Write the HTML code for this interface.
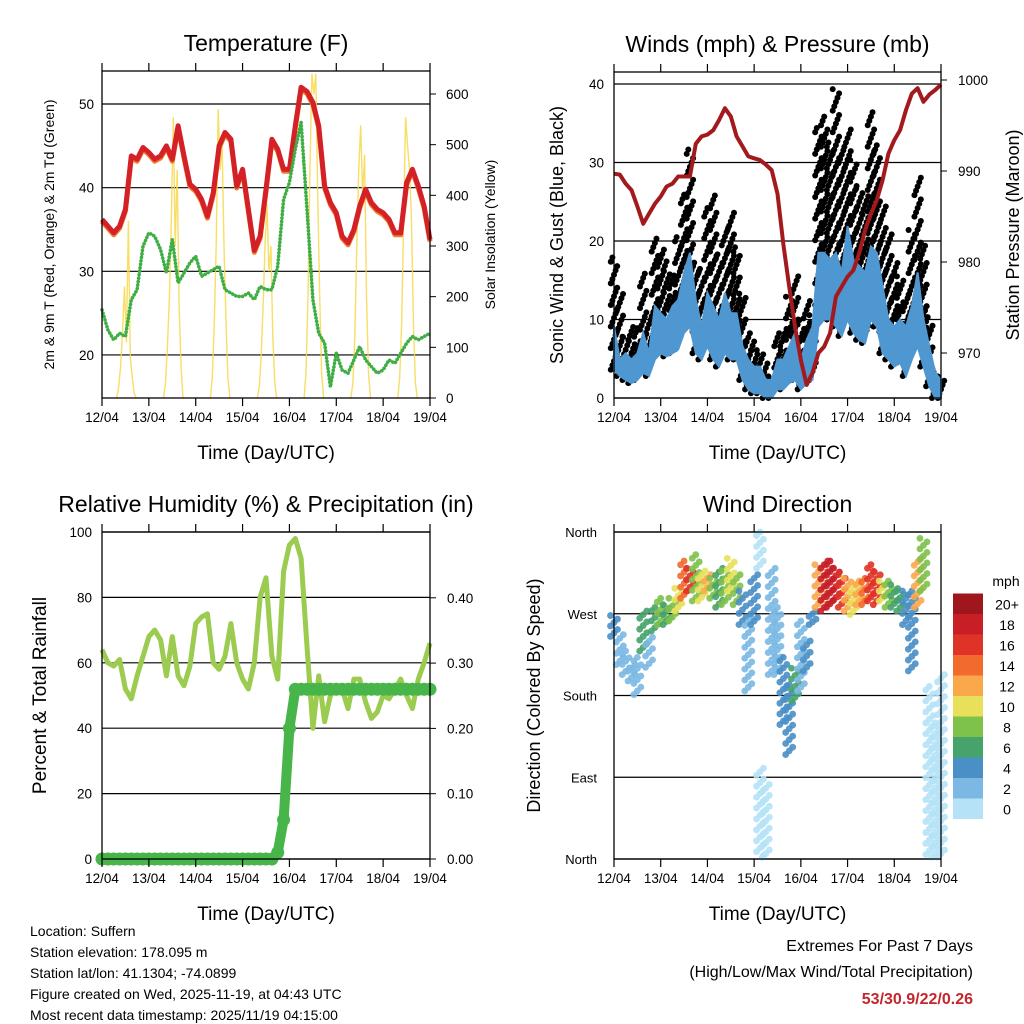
<!DOCTYPE html>
<html><head><meta charset="utf-8"><style>
body{margin:0;background:#fff}
svg{display:block;font-family:"Liberation Sans",Arial,sans-serif}
</style></head><body>
<svg id="c" width="1024" height="1024" viewBox="0 0 1024 1024" xmlns="http://www.w3.org/2000/svg">
<g id="static"></g>
</svg>
<script>
// ---- data (3-hourly from 12/04 00UTC, 57 samples) ----
const dayLabels=["12/04","13/04","14/04","15/04","16/04","17/04","18/04","19/04"];
const tempF=[36.2,35.4,34.6,35.4,37.4,43.8,43.4,44.8,44.2,43.4,43.8,45,43.4,47.4,43.8,40.4,39.8,38.6,36.6,39.4,45,46.6,45.8,40.2,42.2,37.4,32.5,34.2,39.8,45.8,44.6,42.2,42.2,47.4,52,51.5,50.2,47.4,40.2,38.2,37,34.2,33.4,35,37.8,39.8,38.2,37.4,37,36.2,34.6,34.6,40.6,42.2,40.2,37.8,33.8];
const dewF=[25.4,23,21.8,22.6,22.2,26.6,27.8,33,34.6,34.2,32.6,29.8,33.8,28.6,29.8,31,31.8,29.4,29.8,30.2,30.6,27.8,27.4,27,27,27.4,26.6,28.2,27.8,27.8,30.6,38.6,40.6,44.6,47.8,37.4,26.6,22.6,21.4,16.2,20.2,18.2,17.8,19.4,21,19.4,18.6,17.8,18.2,19.4,19,20.2,21.4,22.2,21.8,22.2,22.6];
const solarByDay=[
[0,20,60,130,220,110,350,80,40,10,0],
[0,30,100,200,350,554,300,450,180,60,0],
[0,40,150,300,570,450,500,300,150,40,0],
[0,20,80,180,300,383,250,300,120,30,0],
[0,50,200,450,640,600,640,400,200,50,0],
[0,30,120,300,450,538,400,480,200,50,0],
[0,40,150,350,554,500,450,350,150,30,0]];
const windLo=[3.6,2.8,2.3,1.9,2.3,3.2,2.8,4.9,5.7,5.3,5.7,6.2,8.3,9.1,5.7,4.9,6.6,4.9,4,5.7,4.9,4.9,2.3,1.1,0.6,0.6,0,0,1.1,1.1,1.9,2.3,1.1,1.9,2.3,9.1,10,10,9.1,7.9,10,8.3,7.4,7,10,9.1,5.7,4.9,4,4.5,2.8,4.9,6.6,4,1.5,0,0];
const windHi=[9.1,4.9,5.7,4.9,5.7,8.3,5.7,11.7,10.8,10,11.7,12.5,16,18.5,12.5,9.1,13.4,11.7,10,13.4,10.8,10.8,6.6,4.9,4,4,2.3,2.3,4.9,4.9,6.6,8.3,4.9,7.4,9.1,18.5,18.5,17.6,18.5,16,21.9,17.6,16.8,16,19.3,18.5,14.2,10,9.1,10,9.1,11.7,16,10,6.6,3.2,2.3];
const gustHi=[18,13.4,8.3,9.1,9.1,16,10.8,20.6,19.3,17.6,16,21,26.1,32,17.6,16.8,24.4,26,18.5,21.9,24,19.3,13.4,8.3,7.4,6.6,4.9,2.8,8.3,9.1,13.4,16,10,12.5,10.8,34.6,36.3,33,39.7,32,34.6,30.4,27,26.1,36.7,32.5,25.3,21,17.6,15.5,13.4,21.9,28.2,19.7,10.8,3.6,2.8];
const pressure=[989.7,989.6,988.6,987.9,986.1,984.2,985.3,986.4,987.2,988.3,988.6,989.4,989.4,989.4,993,993.8,994,994.5,995.6,996.9,996,993.8,992.7,991.6,991.4,991.2,990.7,990.1,987.5,982,977.3,972.9,969.2,966.5,967.8,970,970.7,972.2,976.2,977.3,978.4,979.1,981,983.5,985.3,986.8,989,991.9,993.4,994.5,996.7,998.5,999.1,997.6,998.4,998.9,999.5];
const rh=[64,60,59,61,52,49,56,62,68,70,67,56,68,56,53,59,72,74,75,60,58,62,72,60,55,52,60,80,86,62,55,88,96,98,92,65,40,56,42,50,52,52,46,55,55,48,43,45,50,49,52,55,50,46,55,60,66];
const precip=[0,0,0,0,0,0,0,0,0,0,0,0,0,0,0,0,0,0,0,0,0,0,0,0,0,0,0,0,0,0,0.01,0.06,0.2,0.26,0.26,0.26,0.26,0.26,0.26,0.26,0.26,0.26,0.26,0.26,0.26,0.26,0.26,0.26,0.26,0.26,0.26,0.26,0.26,0.26,0.26,0.26,0.26];
const dirLo=[245,214,203,196,181,229,211,251,258,258,262,273,287,295,284,284,295,287,277,280,295,280,258,185,258,320,2,203,203,148,115,174,185,207,258,277,273,277,284,277,273,269,280,280,284,280,284,277,277,273,258,207,277,295,5,2,2];
const dirHi=[268,247,229,214,222,273,244,277,287,280,287,298,328,320,335,317,313,309,320,317,331,313,295,265,313,460,82,320,277,222,192,210,262,240,273,324,328,328,320,313,309,302,306,309,324,317,306,306,302,295,295,295,331,353,190,150,203];
const dirSpeed=[5,3,3,3,3,6,3,7,8,7,8,10,14,17,9,10,12,8,6,9,11,8,4,2,4,1,1,2,3,4,4,7,3,4,4,13,18,19,19,16,13,11,13,14,17,16,11,9,7,6,5,4,12,9,1,1,1];
const speedLabels=["0","2","4","6","8","10","12","14","16","18","20+"];
const speedColors=["#b5e2f6","#7bb8e3","#4a8fc6","#46a36c","#7ec14b","#e8e05a","#f9a94b","#f26a2e","#e03327","#c81f27","#a0161d"];
const tempTicks=[20,30,40,50], solarTicks=[0,100,200,300,400,500,600];
const windTicks=[0,10,20,30,40], presTicks=[970,980,990,1000];
const rhTicks=[0,20,40,60,80,100], rainTicks=[0,0.1,0.2,0.3,0.4];
const dirTicks=[0,90,180,270,360], dirNames=["North","East","South","West","North"];

const NS="http://www.w3.org/2000/svg";
const svg=document.getElementById('c');
function mk(tag,attrs,parent){const e=document.createElementNS(NS,tag);for(const k in attrs)e.setAttribute(k,attrs[k]);(parent||svg).appendChild(e);return e;}
function txt(s,x,y,size,anchor,parent,extra){const e=mk('text',Object.assign({x:x,y:y,'font-size':size,'text-anchor':anchor||'middle',fill:'#000'},extra||{}),parent);e.textContent=s;return e;}
function line(pts){return pts.map(p=>p[0].toFixed(1)+','+p[1].toFixed(1)).join(' ');}

function panel(name,x0,y0,x1,y1){
  const g=mk('g',{});
  
  
  const xs=h=>x0+h/168*(x1-x0);
  return {g,x0,y0,x1,y1,xs};
}
function frame(P,title,titleName){
  const r=mk('rect',{x:P.x0,y:P.y0,width:P.x1-P.x0,height:P.y1-P.y0,fill:'none',stroke:'#000','stroke-width':1.3},P.g);
  
  
  dayLabels.forEach((d,i)=>{
    const x=P.xs(i*24);
    mk('line',{x1:x,y1:P.y1,x2:x,y2:P.y1+8,stroke:'#000','stroke-width':1.2},P.g);
    mk('line',{x1:x,y1:P.y0,x2:x,y2:P.y0-8,stroke:'#000','stroke-width':1.2},P.g);
    const t=txt(d,x,P.y1+24,13.5,'middle',P.g);
    
    
  });
  const xt=txt('Time (Day/UTC)',(P.x0+P.x1)/2,P.y1+61,19,'middle',P.g);
  
  
  const tt=txt(title,(P.x0+P.x1)/2,P.y0-20,23,'middle',P.g);
  
  
}
function grid(P,y){mk('line',{x1:P.x0,y1:y,x2:P.x1,y2:y,stroke:'#000','stroke-width':1.2},P.g);}
function ylab(P,s,x,size,name){const cy=(P.y0+P.y1)/2;const t=txt(s,x,cy,size,'middle',P.g,{transform:'rotate(-90 '+x+' '+cy+')'});}

// ---------- Panel 1: temperature ----------
(function(){
  const P=panel('temperature-panel',102,71,430,398);
  const yT=v=>P.y1-(v-14.85)/(53.95-14.85)*(P.y1-P.y0);
  const yS=v=>398-v*(304/600);
  tempTicks.forEach(v=>{grid(P,yT(v));const t=txt(String(v),P.x0-8,yT(v)+5,13.5,'end',P.g);});
  solarTicks.forEach(v=>{mk('line',{x1:P.x1,y1:yS(v),x2:P.x1+6,y2:yS(v),stroke:'#000'},P.g);const t=txt(String(v),P.x1+16,yS(v)+5,13.5,'start',P.g);});
  solarByDay.forEach((arr,d)=>{
    const pts=arr.map((v,i)=>[P.xs(d*24+7.5+i),yS(v)]);
    const pl=mk('polyline',{points:line(pts),fill:'none',stroke:'#f7d84a','stroke-width':1.4,'stroke-opacity':0.85},P.g);
    
    
  });
  const ptsT=tempF.map((v,i)=>[P.xs(i*3),yT(v)]);
  const o=mk('polyline',{points:line(ptsT.map(p=>[p[0],p[1]+2])),fill:'none',stroke:'#f07b2e','stroke-width':5,'stroke-linejoin':'round'},P.g);
  
  
  const r=mk('polyline',{points:line(ptsT),fill:'none',stroke:'#d42027','stroke-width':5,'stroke-linejoin':'round'},P.g);
  
  
  const gl=mk('polyline',{points:line(dewF.map((v,i)=>[P.xs(i*3),yT(v)])),fill:'none',stroke:'#3fae45','stroke-width':3.6,'stroke-dasharray':'0.1 3.4','stroke-linecap':'round','stroke-linejoin':'round'},P.g);
  
  
  frame(P,'Temperature (F)','temperature-title');
  ylab(P,'2m & 9m T (Red, Orange) & 2m Td (Green)',54,14,'temperature-y-axis-title');
  ylab(P,'Solar Insolation (Yellow)',495,14,'solar-y-axis-title');
})();

// ---------- Panel 2: winds & pressure ----------
(function(){
  const P=panel('winds-panel',614,72,941,398);
  const yW=v=>398-v*7.85;
  const yP=v=>353-(v-970)*9.1;
  windTicks.forEach(v=>{grid(P,yW(v));const t=txt(String(v),P.x0-10,yW(v)+5,13.5,'end',P.g);});
  presTicks.forEach(v=>{mk('line',{x1:P.x1,y1:yP(v),x2:P.x1+6,y2:yP(v),stroke:'#000'},P.g);const t=txt(String(v),P.x1+17,yP(v)+5,13.5,'start',P.g);});
  gustHi.forEach((g,i)=>{
    const lo=windLo[i];
    let j=0;
    for(let v=lo;v<=g+0.01;v+=0.55){
      const c=mk('circle',{cx:P.xs(i*3)+((j%5)-2)*1.6,cy:yW(v),r:3,fill:'#000'},P.g);
      
      
      j++;
    }
  });
  const top=windHi.map((v,i)=>[P.xs(i*3),yW(v)]);
  const bot=windLo.map((v,i)=>[P.xs(i*3),yW(v)]).reverse();
  const b=mk('polygon',{points:line(top.concat(bot)),fill:'#4f97d0',stroke:'#4f97d0','stroke-width':2},P.g);
  
  
  const pl=mk('polyline',{points:line(pressure.map((v,i)=>[P.xs(i*3),yP(v)])),fill:'none',stroke:'#a31a1e','stroke-width':4,'stroke-linejoin':'round'},P.g);
  
  
  frame(P,'Winds (mph) & Pressure (mb)','winds-title');
  ylab(P,'Sonic Wind & Gust (Blue, Black)',563,18,'wind-y-axis-title');
  ylab(P,'Station Pressure (Maroon)',1019,18,'pressure-y-axis-title');
})();

// ---------- Panel 3: RH & precip ----------
(function(){
  const P=panel('humidity-panel',102,532,430,859);
  const yR=v=>859-v*3.27;
  const yQ=v=>859-v*653;
  rhTicks.forEach(v=>{grid(P,yR(v));const t=txt(String(v),P.x0-10,yR(v)+5,13.5,'end',P.g);});
  rainTicks.forEach(v=>{mk('line',{x1:P.x1,y1:yQ(v),x2:P.x1+6,y2:yQ(v),stroke:'#000'},P.g);const t=txt(v.toFixed(2),P.x1+17,yQ(v)+5,13.5,'start',P.g);});
  const l=mk('polyline',{points:line(rh.map((v,i)=>[P.xs(i*3),yR(v)])),fill:'none',stroke:'#9bcb4f','stroke-width':5,'stroke-linejoin':'round'},P.g);
  
  
  const q=mk('polyline',{points:line(precip.map((v,i)=>[P.xs(i*3),yQ(v)])),fill:'none',stroke:'#47b54a','stroke-width':10,'stroke-linecap':'round','stroke-linejoin':'round'},P.g);
  
  
  precip.forEach((v,i)=>{const c=mk('circle',{cx:P.xs(i*3),cy:yQ(v),r:6.5,fill:'#47b54a'},P.g);});
  frame(P,'Relative Humidity (%) & Precipitation (in)','humidity-title');
  ylab(P,'Percent & Total Rainfall',46,19,'humidity-y-axis-title');
})();

// ---------- Panel 4: wind direction ----------
(function(){
  const P=panel('wind-direction-panel',614,532,941,859);
  const yD=v=>859-v/360*327;
  dirTicks.forEach((v,i)=>{grid(P,yD(v));const t=txt(dirNames[i],P.x0-17,yD(v)+5,13,'end',P.g);});
  dirLo.forEach((lo,i)=>{
    const hi=dirHi[i];
    const col=speedColors[Math.min(10,Math.floor(dirSpeed[i]/2))];
    const n=Math.max(5,Math.round((hi-lo)/4));
    for(let j=0;j<=n;j++){
      let d=lo+(hi-lo)*j/n; if(d>360)d-=360;
      const c=mk('circle',{cx:P.xs(i*3)+((j%3)-1)*3.5,cy:yD(d),r:3.4,fill:col,'fill-opacity':0.9},P.g);
      
      
    }
  });
  frame(P,'Wind Direction','wind-direction-title');
  ylab(P,'Direction (Colored By Speed)',540,18,'direction-y-axis-title');
  const lg=mk('g',{});
  
  
  const t0=txt('mph',1006,586,14,'middle',lg);
  
  
  speedColors.forEach((c,i)=>{
    const y=819-(i+1)*20.5;
    const r=mk('rect',{x:953,y:y,width:30,height:20.5,fill:c},lg);
    
    
    const t=txt(speedLabels[i],1007,y+16,14,'middle',lg);
    
    
  });
})();

// ---------- footer ----------
const footerLeft=["Location: Suffern","Station elevation: 178.095 m","Station lat/lon: 41.1304; -74.0899","Figure created on Wed, 2025-11-19, at 04:43 UTC","Most recent data timestamp: 2025/11/19 04:15:00"];
footerLeft.forEach((s,i)=>{const t=txt(s,30,936+i*21,14,'start');});
const e1=txt('Extremes For Past 7 Days',973,951,16,'end');


const e2=txt('(High/Low/Max Wind/Total Precipitation)',973,977,16,'end');


const e3=txt('53/30.9/22/0.26',973,1004,16,'end',null,{fill:'#c3262d','font-weight':'bold'});


</script>
</body></html>
